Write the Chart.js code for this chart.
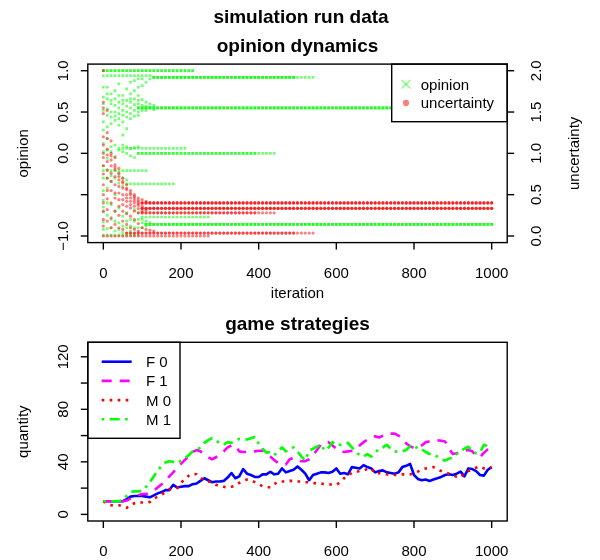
<!DOCTYPE html>
<html>
<head>
<meta charset="utf-8">
<title>simulation run data</title>
<script src="https://cdn.jsdelivr.net/npm/chart.js@4.4.1/dist/chart.umd.min.js"></script>
<style>
  html, body { margin: 0; padding: 0; background: #fff; }
  #wrap   { position: relative; width: 600px; height: 560px; }
  #top    { position: absolute; left: 0; top: 0; }
  #bottom { position: absolute; left: 0; top: 305px; }
</style>
</head>
<body>
<div id="wrap">
  <canvas id="top" width="600" height="305"></canvas>
  <canvas id="bottom" width="600" height="255"></canvas>
</div>
<script>
// ── Data ─────────────────────────────────────────────────────
// sample times of the simulation log (every 10 iterations)
const ITERATIONS = [
  0, 10, 20, 30, 40, 50, 60, 70, 80, 90,
  100, 110, 120, 130, 140, 150, 160, 170, 180, 190,
  200, 210, 220, 230, 240, 250, 260, 270, 280, 290,
  300, 310, 320, 330, 340, 350, 360, 370, 380, 390,
  400, 410, 420, 430, 440, 450, 460, 470, 480, 490,
  500, 510, 520, 530, 540, 550, 560, 570, 580, 590,
  600, 610, 620, 630, 640, 650, 660, 670, 680, 690,
  700, 710, 720, 730, 740, 750, 760, 770, 780, 790,
  800, 810, 820, 830, 840, 850, 860, 870, 880, 890,
  900, 910, 920, 930, 940, 950, 960, 970, 980, 990,
  1000,
];

const ITER_TICKS = [0, 200, 400, 600, 800, 1000];
const OPINION_TICKS = [-1, -0.5, 0, 0.5, 1];
const OPINION_TICK_LABELS = ['\u22121.0', '', '0.0', '0.5', '1.0'];
const UNCERTAINTY_TICKS = [0, 0.5, 1, 1.5, 2];
const UNCERTAINTY_TICK_LABELS = ['0.0', '0.5', '1.0', '1.5', '2.0'];
const QUANTITY_TICKS = [0, 20, 40, 60, 80, 100, 120];
const QUANTITY_TICK_LABELS = ['0', '', '40', '', '80', '', '120'];

// settled opinion groups: [opinion, first iteration, last iteration, agents]
const OPINION_CLUSTERS = [
  [1.0, 0, 230, 2],
  [0.94, 0, 120, 1],
  [0.92, 130, 490, 3],
  [0.92, 500, 540, 1],
  [0.55, 90, 1000, 3],
  [0.06, 40, 210, 1],
  [0.0, 90, 390, 2],
  [0.0, 400, 440, 1],
  [-0.21, 0, 110, 1],
  [-0.37, 60, 180, 1],
  [-0.77, 100, 270, 1],
  [-0.86, 110, 1000, 3],
  [-0.99, 0, 90, 1],
];

// settled uncertainty groups: [uncertainty, first iteration, last iteration, agents]
const UNCERTAINTY_CLUSTERS = [
  [0.40, 100, 1000, 3],
  [0.335, 100, 1000, 3],
  [0.28, 100, 390, 2],
  [0.28, 400, 440, 1],
  [0.035, 60, 490, 2],
  [0.035, 500, 540, 1],
  [0.0, 0, 270, 1],
];

// early, not yet settled values (one list per sampled iteration)
const SPREAD_ITERS = [0, 10, 20, 30, 40, 50, 60, 70, 80, 90, 100, 110, 120, 130];
const OPINION_SPREAD = [
  [0.8, 0.68, 0.6, 0.52, 0.38, 0.28, 0.12, 0.02, -0.15, -0.3, -0.45, -0.57, -0.65, -0.71, -0.83, -0.92],
  [0.8, 0.72, 0.66, 0.54, 0.46, 0.32, 0.18, 0.04, -0.06, -0.3, -0.42, -0.6, -0.75, -0.91],
  [0.72, 0.64, 0.6, 0.5, 0.44, 0.36, 0.08, 0.02, -0.27, -0.34, -0.62, -0.8, -0.9],
  [0.76, 0.66, 0.58, 0.5, 0.45, 0.4, 0.1, -0.04, -0.3, -0.5, -0.7, -0.82, -0.94],
  [0.84, 0.7, 0.62, 0.55, 0.48, 0.42, 0.34, 0.04, -0.25, -0.36, -0.66, -0.84, -0.92],
  [0.7, 0.64, 0.6, 0.52, 0.46, 0.38, 0.22, 0.1, 0.02, -0.3, -0.4, -0.76, -0.88, -0.96],
  [0.78, 0.64, 0.57, 0.5, 0.44, 0.3, 0.08, 0.0, -0.32, -0.72, -0.82, -0.9],
  [0.86, 0.72, 0.66, 0.62, 0.55, 0.48, 0.42, 0.06, -0.03, -0.8, -0.88, -0.94],
  [0.88, 0.76, 0.66, 0.59, 0.52, 0.45, 0.07, -0.05, -0.68, -0.82, -0.9],
  [0.9, 0.8, 0.7, 0.64, 0.6, 0.5, 0.46, 0.08, -0.72, -0.8, -0.9],
  [0.9, 0.82, 0.65, 0.58, 0.52, -0.8, -0.84, -0.9],
  [0.86, 0.62, 0.57, 0.52, -0.82, -0.88],
  [0.9, 0.6, 0.56, -0.84],
  [0.58, 0.53],
];
const UNCERTAINTY_SPREAD = [
  [2.0, 1.62, 1.55, 1.48, 1.2, 1.1, 1.0, 0.95, 0.85, 0.75, 0.62, 0.5, 0.4, 0.3, 0.2, 0.12],
  [1.52, 1.25, 1.18, 1.05, 0.98, 0.9, 0.8, 0.7, 0.55, 0.45, 0.32, 0.18],
  [1.15, 1.0, 0.97, 0.92, 0.85, 0.76, 0.66, 0.55, 0.4, 0.22, 0.1],
  [0.95, 0.86, 0.83, 0.8, 0.72, 0.62, 0.52, 0.46, 0.3, 0.14],
  [0.82, 0.76, 0.72, 0.68, 0.6, 0.52, 0.44, 0.36, 0.25, 0.1],
  [0.7, 0.66, 0.64, 0.58, 0.5, 0.44, 0.38, 0.3, 0.18, 0.08],
  [0.62, 0.58, 0.56, 0.5, 0.46, 0.42, 0.36, 0.27, 0.14],
  [0.55, 0.52, 0.5, 0.46, 0.42, 0.38, 0.34, 0.24, 0.1],
  [0.5, 0.48, 0.46, 0.43, 0.4, 0.36, 0.3, 0.2, 0.08],
  [0.46, 0.43, 0.41, 0.39, 0.37, 0.33, 0.28, 0.15, 0.06],
  [0.44, 0.36, 0.3, 0.1],
  [0.42, 0.31, 0.08],
  [0.07],
  [0.06],
];

// game strategy counts, one value per entry of ITERATIONS
const F0 = [
  10, 10, 10, 10, 10, 10, 11.5, 13.5, 14, 14,
  14, 13.5, 13, 14.5, 16, 17, 18.5, 18.5, 22.5, 20.5,
  21, 21.5, 21.5, 23, 23.5, 25.5, 27.5, 26, 24.5, 25,
  25, 25.5, 28, 31.5, 27.5, 29, 34.5, 31, 30, 28.5,
  28.5, 30.5, 30.5, 32.5, 30.5, 31, 35, 32, 33, 34,
  36.5, 34, 31, 26, 30, 31, 32, 32, 31.5, 32.5,
  35, 31, 31.5, 30.5, 36, 35.5, 35, 37.5, 36, 35,
  32, 33, 33.5, 32, 31.5, 31, 32, 36, 37, 38.5,
  30, 27, 26, 26.5, 25.5, 26.5, 27.5, 28.5, 30, 30.5,
  30, 31, 32.5, 29, 35, 34.5, 33, 30, 29.5, 34,
  36,
];
const F1 = [
  10, 10, 10, 10, 10, 10, 10.5, 12, 13, 14.5,
  15.5, 15.5, 16.5, 18, 20.5, 23, 25.5, 29, 32, 35.5,
  38.5, 41.5, 44.5, 47.5, 49, 48, 45.5, 43.5, 42, 43.5,
  46, 48, 51, 52.5, 52.5, 48, 47.5, 47.5, 47.5, 48,
  48.5, 48.5, 46, 44, 41.5, 39, 38.5, 38, 42, 43,
  41.5, 40.5, 40.5, 42, 45, 49, 53, 55, 55, 52.5,
  50, 48, 47.5, 48, 48.5, 50, 52.5, 55, 57, 59,
  59.5, 58.5, 60, 61.5, 61.5, 61.5, 60, 58, 54, 52,
  50.5, 51, 52.5, 55, 55.5, 55.5, 56.5, 56, 55.5, 50,
  46, 46.5, 47.5, 48.5, 49, 48, 45, 43.5, 47, 49.5,
  51,
];
const M0 = [
  10, 8, 7, 7, 7, 6, 5, 7, 8.5, 9.5,
  9, 9, 9.5, 12, 13.5, 15, 17, 19, 19.5, 20,
  24, 27, 29.5, 31, 30.5, 28, 26, 25, 24.5, 22.5,
  21.5, 21, 20.5, 21, 22, 24, 25.5, 26.5, 26, 24.5,
  23, 21.5, 21, 20.5, 23, 25, 25, 25, 25.5, 25.5,
  25, 25, 24.5, 24.5, 24, 23.5, 23.5, 23, 23, 22.5,
  22.5, 24.5, 27.5, 30, 31.5, 32.3, 33, 33.5, 34.5, 35,
  31, 31.5, 31, 30.5, 30.5, 30, 30, 30.5, 30.5, 30.5,
  31, 32.5, 34, 35, 35.5, 36, 34.5, 33, 32, 31,
  30, 28.5, 28, 31.5, 33, 34, 35.5, 36.5, 35, 35,
  36,
];
const M1 = [
  10, 10, 10, 10, 10, 11, 14, 17, 17.5, 17.5,
  18, 21, 24.5, 29, 33.5, 37, 39.5, 40.5, 40, 39,
  41, 43, 45, 48, 49, 51, 54.5, 56.5, 58, 56.5,
  54, 53, 55, 54.5, 56, 57.5, 57, 57, 58, 59,
  54, 50, 47, 47.5, 45, 48, 51, 48, 49.5, 51,
  48, 44, 41, 48.5, 50, 51.5, 53.5, 48.5, 51, 55,
  52.5, 53, 53.5, 54.5, 51, 48, 45, 44, 46, 44,
  47, 50, 51, 53, 50, 48, 47.5, 48, 49, 52,
  50, 51.5, 49.5, 47.5, 46, 46, 44, 42, 41, 42.5,
  43, 46, 48.5, 50, 51.5, 48, 46.5, 47, 53, 52,
  51,
];

// ── Styles ───────────────────────────────────────────────────
const FONT = '"Liberation Sans", Arial, Helvetica, sans-serif';
const GREEN_PT = 'rgba(0,255,0,0.55)';
const RED_PT   = 'rgba(255,0,0,0.5)';

const SERIES = [
  { label: 'F 0', data: F0, color: '#0000ff', dash: [] },
  { label: 'F 1', data: F1, color: '#ff00ff', dash: [10, 8] },
  { label: 'M 0', data: M0, color: '#ff0000', dash: [2.6, 5.4] },
  { label: 'M 1', data: M1, color: '#00ff00', dash: [2.6, 5.4, 10, 5.4] },
];

// ── Helpers ──────────────────────────────────────────────────
function clusterPoints(clusters) {
  const pts = [];
  clusters.forEach(([value, from, to, agents]) => {
    for (let k = 0; k < agents; k++) {
      ITERATIONS.forEach(it => {
        if (it >= from && it <= to) pts.push({ x: it, y: value });
      });
    }
  });
  return pts;
}

function spreadPoints(columns) {
  const pts = [];
  columns.forEach((col, i) => col.forEach(v => pts.push({ x: SPREAD_ITERS[i], y: v })));
  return pts;
}

function rotatedText(ctx, text, x, y) {
  ctx.save();
  ctx.translate(x, y);
  ctx.rotate(-Math.PI / 2);
  ctx.textAlign = 'center';
  ctx.textBaseline = 'alphabetic';
  ctx.fillText(text, 0, 0);
  ctx.restore();
}

function seg(ctx, x1, y1, x2, y2) {
  ctx.beginPath();
  ctx.moveTo(x1, y1);
  ctx.lineTo(x2, y2);
  ctx.stroke();
}

// ── R-like frame: box, ticks, labels, titles, legend ─────────
const rFrame = {
  id: 'rFrame',
  afterDraw(chart, args, o) {
    const ctx = chart.ctx;
    const a = chart.chartArea;
    const xs = chart.scales.x;
    const ys = chart.scales.y;
    const cy = (a.top + a.bottom) / 2;
    const cx = (a.left + a.right) / 2;

    ctx.save();
    ctx.strokeStyle = '#000';
    ctx.fillStyle = '#000';
    ctx.lineWidth = 1.4;
    ctx.setLineDash([]);

    // legend
    if (o.legend) o.legend(ctx, a);

    ctx.strokeStyle = '#000';
    ctx.fillStyle = '#000';
    ctx.lineWidth = 1.4;
    ctx.setLineDash([]);
    ctx.strokeRect(a.left, a.top, a.right - a.left, a.bottom - a.top);

    // bottom axis
    ctx.font = '15px ' + FONT;
    ctx.textAlign = 'center';
    ctx.textBaseline = 'alphabetic';
    ITER_TICKS.forEach(v => {
      const px = xs.getPixelForValue(v);
      seg(ctx, px, a.bottom, px, a.bottom + 7);
      ctx.fillText(String(v), px, a.bottom + 35);
    });

    // left axis
    o.leftTicks.forEach((v, i) => {
      const py = ys.getPixelForValue(v);
      seg(ctx, a.left, py, a.left - 7, py);
      if (o.leftLabels[i]) rotatedText(ctx, o.leftLabels[i], a.left - 19.6, py);
    });

    // right axis
    if (o.rightTicks) {
      const rs = chart.scales.u;
      o.rightTicks.forEach((v, i) => {
        const py = rs.getPixelForValue(v);
        seg(ctx, a.right, py, a.right + 7, py);
        rotatedText(ctx, o.rightLabels[i], a.right + 33.5, py);
      });
      rotatedText(ctx, o.rightTitle, a.right + 71.5, cy);
    }

    // axis titles
    rotatedText(ctx, o.leftTitle, 28, cy);
    if (o.xTitle) ctx.fillText(o.xTitle, cx, a.bottom + 55.5);

    // main titles
    ctx.font = 'bold 19px ' + FONT;
    ctx.fillText(o.title, cx, a.top - 12.3);
    if (o.outerTitle) ctx.fillText(o.outerTitle, 301, 23.3);

    ctx.restore();
  },
};

// ── Opinion dynamics chart ───────────────────────────────────
function opinionLegend(ctx, a) {
  const w = 115.5, h = 57.6;
  const x0 = a.right - w, y0 = a.top;
  ctx.fillStyle = '#fff';
  ctx.fillRect(x0, y0, w, h);
  ctx.strokeRect(x0, y0, w, h);

  const sx = x0 + 14.3;
  const r1 = y0 + 20.2, r2 = y0 + 38.8;

  ctx.strokeStyle = 'rgba(0,255,0,0.5)';
  ctx.lineWidth = 1.4;
  seg(ctx, sx - 4.3, r1 - 4.3, sx + 4.3, r1 + 4.3);
  seg(ctx, sx - 4.3, r1 + 4.3, sx + 4.3, r1 - 4.3);

  ctx.fillStyle = RED_PT;
  ctx.beginPath();
  ctx.arc(sx, r2, 3.1, 0, Math.PI * 2);
  ctx.fill();

  ctx.fillStyle = '#000';
  ctx.strokeStyle = '#000';
  ctx.font = '15px ' + FONT;
  ctx.textAlign = 'left';
  ctx.fillText('opinion', x0 + 29, r1 + 5.4);
  ctx.fillText('uncertainty', x0 + 29, r2 + 5.4);
  ctx.textAlign = 'center';
}

new Chart(document.getElementById('top'), {
  type: 'scatter',
  data: {
    datasets: [
      {
        label: 'uncertainty',
        data: clusterPoints(UNCERTAINTY_CLUSTERS).concat(spreadPoints(UNCERTAINTY_SPREAD)),
        yAxisID: 'u',
        pointStyle: 'circle',
        pointRadius: 1.6,
        pointBorderWidth: 0,
        backgroundColor: RED_PT,
        borderColor: RED_PT,
        order: 0,
      },
      {
        label: 'opinion',
        data: clusterPoints(OPINION_CLUSTERS).concat(spreadPoints(OPINION_SPREAD)),
        yAxisID: 'y',
        pointStyle: 'rect',
        pointRadius: 1.9,
        pointBorderWidth: 0,
        borderColor: GREEN_PT,
        backgroundColor: GREEN_PT,
        order: 1,
      },
    ],
  },
  options: {
    responsive: false,
    animation: false,
    events: [],
    layout: { padding: { left: 87.8, right: 92.8, top: 64.1, bottom: 62.4 } },
    scales: {
      x: { type: 'linear', min: -40, max: 1040, display: false },
      y: { type: 'linear', min: -1.08, max: 1.08, display: false },
      u: { type: 'linear', position: 'right', min: -0.08, max: 2.08, display: false },
    },
    plugins: {
      legend: { display: false },
      tooltip: { enabled: false },
      rFrame: {
        title: 'opinion dynamics',
        outerTitle: 'simulation run data',
        xTitle: 'iteration',
        leftTitle: 'opinion',
        rightTitle: 'uncertainty',
        leftTicks: OPINION_TICKS,
        leftLabels: OPINION_TICK_LABELS,
        rightTicks: UNCERTAINTY_TICKS,
        rightLabels: UNCERTAINTY_TICK_LABELS,
        legend: opinionLegend,
      },
    },
  },
  plugins: [rFrame],
});

// ── Game strategies chart ────────────────────────────────────
function gameLegend(ctx, a) {
  const w = 92.2, h = 96;
  const x0 = a.left, y0 = a.top;
  ctx.fillStyle = '#fff';
  ctx.fillRect(x0, y0, w, h);
  ctx.strokeRect(x0, y0, w, h);

  ctx.font = '15px ' + FONT;
  ctx.textAlign = 'left';
  SERIES.forEach((s, i) => {
    const ry = y0 + 19.4 + i * 19.2;
    ctx.strokeStyle = s.color;
    ctx.lineWidth = 2.6;
    ctx.setLineDash(s.dash);
    seg(ctx, x0 + 13.9, ry, x0 + 43.9, ry);
    ctx.setLineDash([]);
    ctx.fillStyle = '#000';
    ctx.fillText(s.label, x0 + 58.2, ry + 5.4);
  });
  ctx.strokeStyle = '#000';
  ctx.lineWidth = 1.4;
  ctx.textAlign = 'center';
}

new Chart(document.getElementById('bottom'), {
  type: 'line',
  data: {
    datasets: SERIES.map((s, i) => ({
      label: s.label,
      data: ITERATIONS.map((it, k) => ({ x: it, y: s.data[k] })),
      borderColor: s.color,
      borderWidth: 2.6,
      borderDash: s.dash,
      borderJoinStyle: 'round',
      pointRadius: 0,
      tension: 0,
      fill: false,
      order: SERIES.length - 1 - i,
    })),
  },
  options: {
    responsive: false,
    animation: false,
    events: [],
    layout: { padding: { left: 87.8, right: 92.8, top: 37.3, bottom: 39 } },
    scales: {
      x: { type: 'linear', min: -40, max: 1040, display: false },
      y: { type: 'linear', min: -5.04, max: 131.04, display: false },
    },
    plugins: {
      legend: { display: false },
      tooltip: { enabled: false },
      rFrame: {
        title: 'game strategies',
        leftTitle: 'quantity',
        leftTicks: QUANTITY_TICKS,
        leftLabels: QUANTITY_TICK_LABELS,
        legend: gameLegend,
      },
    },
  },
  plugins: [rFrame],
});
</script>
</body>
</html>
